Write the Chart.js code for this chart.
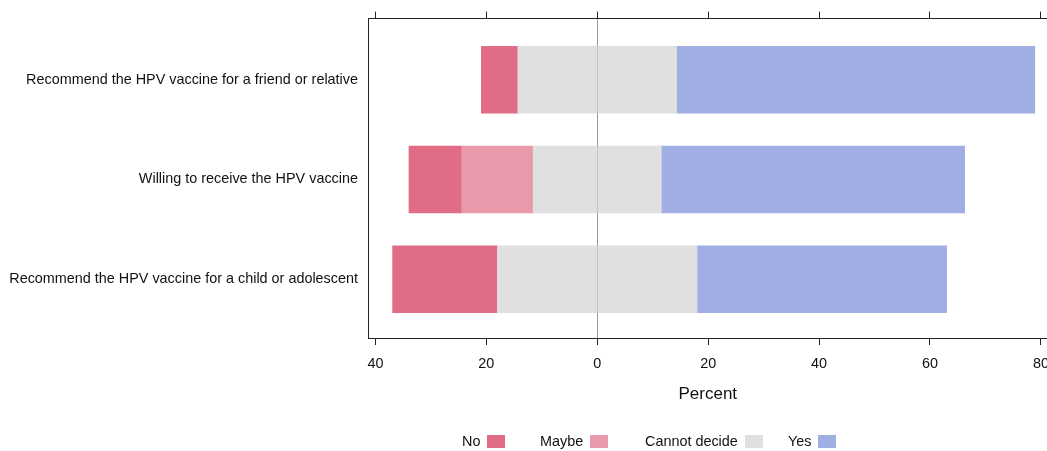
<!DOCTYPE html>
<html>
<head>
<meta charset="utf-8">
<script src="https://cdn.jsdelivr.net/npm/chart.js@4.4.1/dist/chart.umd.min.js"></script>
<style>
  html, body { margin: 0; padding: 0; background: #fff; overflow: hidden; }
  #wrap { position: relative; width: 1047px; height: 451px; overflow: hidden; }
  #legend { position: absolute; top: 433px; left: 0; width: 1047px; height: 18px;
            font: 14.4px "Liberation Sans", Arial, sans-serif; color: #111; }
  .lg-item { position: absolute; top: 0; display: flex; align-items: center; white-space: nowrap; }
  .lg-box { display: inline-block; width: 18px; height: 13px; margin-left: 7px; }
</style>
</head>
<body>
<div id="wrap">
  <canvas id="likert" width="1059" height="451"></canvas>
  <div id="legend"></div>
</div>
<script>
const categories = [
  "Recommend the HPV vaccine for a friend or relative",
  "Willing to receive the HPV vaccine",
  "Recommend the HPV vaccine for a child or adolescent",
];
// percentages per response, one entry per category
const noValues = [6.6, 9.5, 18.9];
const maybeValues = [0, 12.9, 0];
const cannotDecideValues = [28.6, 23.1, 36.0];
const yesValues = [64.6, 54.7, 45.0];
const tickValues = [-40, -20, 0, 20, 40, 60, 80];

const colors = { no: "#e06c86", maybe: "#e89aab", cd: "#e0e0e0", yes: "#a1aee3" };
const legendItems = [
  { label: "No", color: colors.no, left: 462 },
  { label: "Maybe", color: colors.maybe, left: 540 },
  { label: "Cannot decide", color: colors.cd, left: 645 },
  { label: "Yes", color: colors.yes, left: 788 },
];

const font = { family: "'Liberation Sans', Arial, sans-serif", size: 14.4 };
const half = cannotDecideValues.map(v => v / 2);

// rows sit on a linear index axis so their spacing can follow the reference
const bar = (values, color) => ({
  data: values.map((x, i) => ({ x, y: i })),
  backgroundColor: color,
  borderWidth: 0,
  barThickness: 67,
});

new Chart(document.getElementById("likert"), {
  type: "bar",
  data: {
    datasets: [
      // negative side, stacked outward from zero
      bar(half.map(v => -v), colors.cd),
      bar(maybeValues.map(v => -v), colors.maybe),
      bar(noValues.map(v => -v), colors.no),
      // positive side
      bar(half, colors.cd),
      bar(yesValues, colors.yes),
    ],
  },
  options: {
    indexAxis: "y",
    responsive: false,
    animation: false,
    layout: { padding: { left: 0, right: 0, top: 0, bottom: 46 } },
    plugins: { legend: { display: false }, tooltip: { enabled: false } },
    scales: {
      x: {
        type: "linear",
        stacked: true,
        min: -41.34,
        max: 81.2,
        afterBuildTicks: s => { s.ticks = tickValues.map(value => ({ value })); },
        afterFit: s => { s.height = 67; },
        ticks: { font, color: "#111", padding: 10, maxRotation: 0, callback: v => Math.abs(v) },
        grid: {
          color: ctx => (ctx.tick && ctx.tick.value === 0 ? "#9a9a9a" : "rgba(0,0,0,0)"),
          tickColor: "#222",
          tickLength: 7,
          lineWidth: 1,
        },
        border: { display: true, color: "#222", width: 1 },
        title: { display: true, text: "Percent", font: { ...font, size: 17 }, color: "#111", padding: 0 },
      },
      x2: {
        type: "linear",
        position: "top",
        min: -41.34,
        max: 81.2,
        afterBuildTicks: s => { s.ticks = tickValues.map(value => ({ value })); },
        afterFit: s => { s.height = 17; },
        ticks: { display: false },
        grid: { drawOnChartArea: false, tickColor: "#222", tickLength: 7 },
        border: { display: true, color: "#222", width: 1 },
      },
      y: {
        type: "linear",
        stacked: true,
        reverse: true,
        offset: false,
        min: -0.613,
        max: 2.589,
        afterBuildTicks: s => { s.ticks = categories.map((_, value) => ({ value })); },
        afterFit: s => { s.width = 368; },
        ticks: { font, color: "#111", padding: 10, callback: v => categories[v] },
        grid: { display: false, drawTicks: false, offset: false },
        border: { display: true, color: "#222", width: 1 },
      },
    },
  },
});

document.getElementById("legend").innerHTML = legendItems.map(item => `
  <div class="lg-item" style="left:${item.left}px">
    <span>${item.label}</span><span class="lg-box" style="background:${item.color}"></span>
  </div>`).join("");
</script>
</body>
</html>
